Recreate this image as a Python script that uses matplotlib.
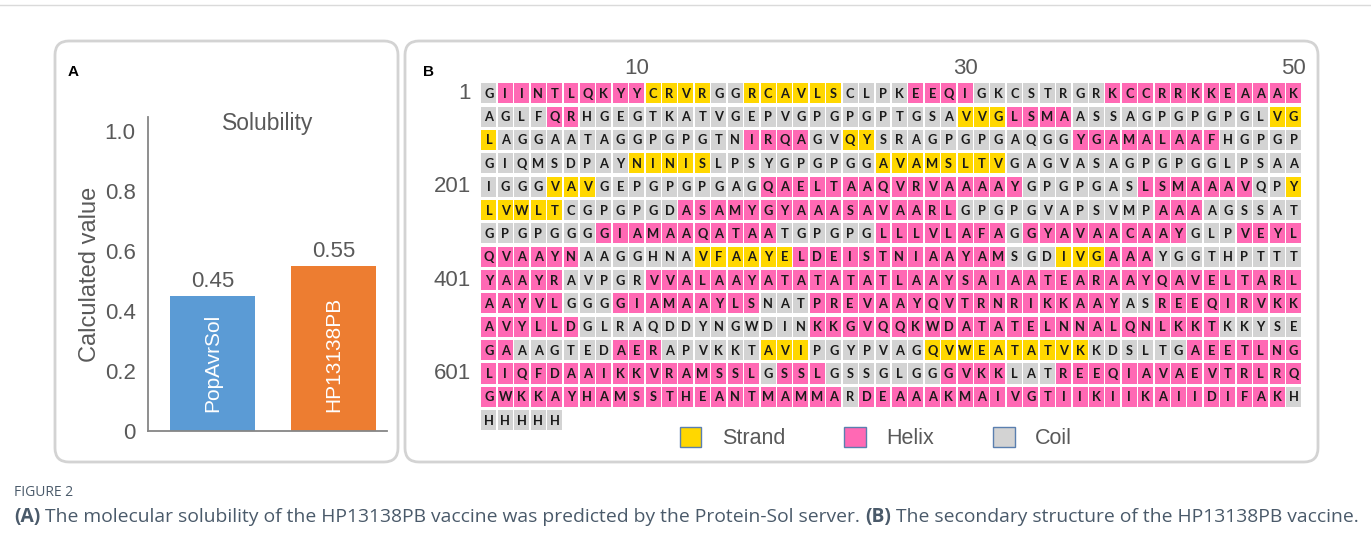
import matplotlib
matplotlib.use('Agg')
import matplotlib.pyplot as plt
from matplotlib.patches import FancyBboxPatch, Patch
import numpy as np

plt.rcParams['font.family'] = ['Liberation Sans', 'DejaVu Sans']

# ---- panel A data
categories = ['PopAvrSol', 'HP13138PB']
values = [0.45, 0.55]
value_labels = ['0.45', '0.55']
bar_colors = ['#5B9BD5', '#ED7D31']
yticks = [0, 0.2, 0.4, 0.6, 0.8, 1.0]
ytick_labels = ['0', '0.2', '0.4', '0.6', '0.8', '1.0']

# ---- panel B data: sequence (50 per row) and secondary structure runs
seq_rows = [
    'GIINTLQKYYCRVRGGRCAVLSCLPKEEQIGKCSTRGRKCCRRKKEAAAK',
    'AGLFQRHGEGTKATVGEPVGPGPGPTGSAVVGLSMAASSAGPGPGPGLVG',
    'LAGGAATAGGPGPGTNIRQAGVQYSRAGPGPGAQGGYGAMALAAFHGPGP',
    'GIQMSDPAYNINISLPSYGPGPGGAVAMSLTVGAGVASAGPGPGGLPSAA',
    'IGGGVAVGEPGPGPGAGQAELTAAQVRVAAAAYGPGPGASLSMAAAVQPY',
    'LVWLTCGPGPGDASAMYGYAAASAVAARLGPGPGVAPSVMPAAAAGSSAT',
    'GPGPGGGGIAMAAQATAATGPGPGLLLVLAFAGGYAVAACAAYGLPVEYL',
    'QVAAYNAAGGHNAVFAAYELDEISTNIAAYAMSGDIVGAAAYGGTHPTTT',
    'YAAYRAVPGRVVALAAYATATATATLAAYSAIAATEARAAYQAVELTARL',
    'AAYVLGGGGIAMAAYLSNATPREVAAYQVTRNRIKKAAYASREEQIRVKK',
    'AVYLLDGLRAQDDYNGWDINKKGVQQKWDATATELNNALQNLKKTKKYSE',
    'GAAAGTEDAERAPVKKTAVIPGYPVAGQVWEATATVKKDSLTGAEETLNG',
    'LIQFDAAIKKVRAMSSLGSSLGSSGLGGGVKKLATREEQIAVAEVTRLRQ',
    'GWKKAYHAMSSTHEANTMAMMARDEAAAKMAIVGTIIKIIKAIIDIFAKH',
    'HHHHH',
]
# E = strand, H = helix, C = coil ; letter + run length
ss_runs = [
    'C1 H9 E4 C2 E6 C4 H4 C8 H12',
    'C4 H2 C23 E3 H4 C12 E2',
    'E1 C15 H4 C2 E2 C12 H9 C5',
    'C9 E5 C10 E8 C18',
    'C4 E3 C10 H16 C7 H7 C2 E1',
    'E5 C7 H17 C12 H3 C6',
    'C7 H11 C6 H8 C1 H10 C3 H4',
    'H6 C7 E6 H13 C3 E3 H3 C9',
    'H5 C5 H40',
    'H5 C3 H9 C3 H19 C2 H9',
    'H6 C14 H25 C5',
    'H2 C6 H3 C6 E3 C7 E10 C6 H7',
    'H17 C1 H3 C7 H4 C3 H15',
    'H22 C1 H26 C1',
    'C5',
]
row_labels = {0: '1', 4: '201', 8: '401', 12: '601'}
col_labels = [10, 30, 50]
ss_order = ['E', 'H', 'C']
ss_names = {'E': 'Strand', 'H': 'Helix', 'C': 'Coil'}
ss_colors = {'E': '#FFD700', 'H': '#FF69B4', 'C': '#D3D3D3'}

W, H = 1371, 553
fig = plt.figure(figsize=(W / 100, H / 100), dpi=100)


def box(x0, y0, x1, y1):
    return [x0 / W, 1 - y1 / H, (x1 - x0) / W, (y1 - y0) / H]


# background layer in pixel units: panel frames, letters, caption
bg = fig.add_axes([0, 0, 1, 1])
bg.set_xlim(0, W)
bg.set_ylim(H, 0)
bg.axis('off')
bg.axhline(5, color='#DADADA', lw=1)
for x0, y0, x1, y1 in [(55, 41, 398, 462), (405, 41, 1318, 462)]:
    bg.add_patch(FancyBboxPatch((x0, y0), x1 - x0, y1 - y0,
                                boxstyle='round,pad=0,rounding_size=14',
                                fc='white', ec='#D3D3D3', lw=2))
bg.text(73, 72, 'A', fontsize=11, fontweight='bold', ha='center', va='center')
bg.text(428, 72, 'B', fontsize=11, fontweight='bold', ha='center', va='center')

# ---- panel A
grey = '#595959'
axA = fig.add_axes(box(148, 117, 387, 431))
bars = axA.bar(range(len(values)), values, width=0.70, color=bar_colors)
axA.set_xlim(-0.53, 1.44)
axA.set_ylim(0, 1.047)
for s in ['top', 'right']:
    axA.spines[s].set_visible(False)
for s in ['left', 'bottom']:
    axA.spines[s].set_color('#868686')
    axA.spines[s].set_linewidth(1.3)
axA.set_xticks([])
axA.set_yticks(yticks)
axA.set_yticklabels(ytick_labels)
axA.tick_params(axis='y', length=0, labelsize=16, labelcolor=grey, pad=9)
axA.bar_label(bars, labels=value_labels, padding=3, fontsize=16, color=grey)
for i, name in enumerate(categories):
    axA.text(i, 0.065, name, rotation=90, ha='center', va='bottom',
             color='white', fontsize=15)
axA.text(0.5, 0.98, 'Solubility', transform=axA.transAxes, ha='center',
         va='center', fontsize=16.5, color=grey)
axA.set_ylabel('Calculated value', fontsize=17, color=grey)
axA.yaxis.set_label_coords(-0.195, 0.5)

# ---- panel B
gx, gy = 0.09, 0.14
axB = fig.add_axes(box(480.7, 81.6, 1301.7, 431.9))
axB.set_xlim(0, 50)
axB.set_ylim(15, 0)
axB.axis('off')
for r, (seq, runs) in enumerate(zip(seq_rows, ss_runs)):
    ss = ''.join(tok[0] * int(tok[1:]) for tok in runs.split())
    assert len(ss) == len(seq), (r, len(ss), len(seq))
    xs = np.arange(len(seq))
    axB.bar(xs + gx / 2, 1 - gy, width=1 - gx, bottom=r + gy / 2, align='edge',
            color=[ss_colors[k] for k in ss])
    for c, ch in enumerate(seq):
        axB.text(c + 0.5, r + 0.52, ch, ha='center', va='center', fontsize=9.3,
                 fontweight='bold', family=['Lato', 'DejaVu Sans'], color='#1a1a1a')
for r, lab in row_labels.items():
    axB.text(-0.6, r + 0.5, lab, ha='right', va='center', fontsize=16,
             color=grey)
for c in col_labels:
    axB.text(c - 0.5, -0.12, str(c), ha='center', va='bottom', fontsize=16,
             color=grey)
handles = [Patch(fc=ss_colors[k], ec='#5A7FAF', lw=1) for k in ss_order]
axB.legend(handles, [ss_names[k] for k in ss_order], ncol=3, loc='center',
           bbox_to_anchor=(0.4815, -0.0174), frameon=False, fontsize=15.5,
           handlelength=1.0, handleheight=1.05, handletextpad=0.95,
           columnspacing=2.75, labelcolor=grey)

# ---- caption
cap = '#4A5A6A'
bg.text(14, 492, 'FIGURE 2', fontsize=10, color=cap, va='center',
        family=['Open Sans', 'DejaVu Sans'])
pieces = [('(A)', 'bold'),
          (' The molecular solubility of the HP13138PB vaccine was predicted by the Protein-Sol server. ', 'normal'),
          ('(B)', 'bold'),
          (' The secondary structure of the HP13138PB vaccine.', 'normal')]
renderer = fig.canvas.get_renderer()
x = 14
for txt, wt in pieces:
    t = bg.text(x, 517, txt, fontsize=13.9, color=cap, fontweight=wt, va='center',
                family=['Open Sans', 'DejaVu Sans'])
    bb = t.get_window_extent(renderer)
    x = bg.transData.inverted().transform((bb.x1, bb.y0))[0]

fig.savefig('out.png', dpi=100)
